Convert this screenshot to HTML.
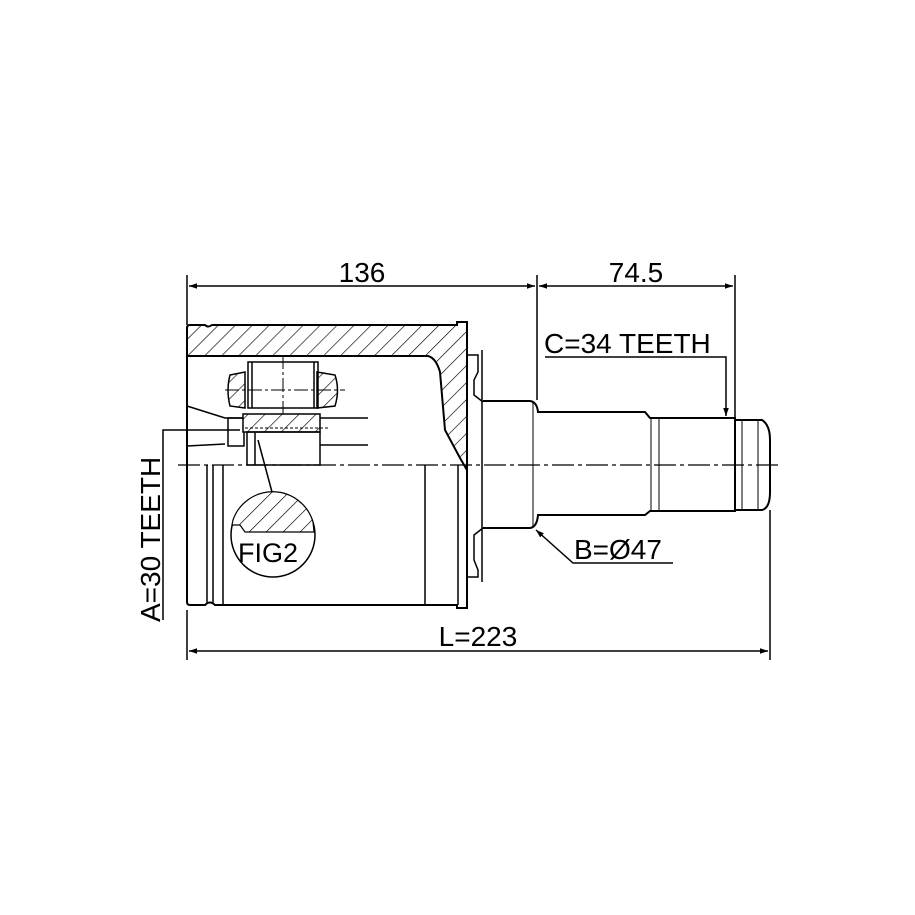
<!DOCTYPE html>
<html><head><style>html,body{margin:0;padding:0;background:#fff}svg{display:block}</style></head><body>
<svg width="915" height="915" viewBox="0 0 915 915" xmlns="http://www.w3.org/2000/svg" font-family="Liberation Sans, sans-serif">
<defs>
<pattern id="h" patternUnits="userSpaceOnUse" width="12" height="12" patternTransform="rotate(45)">
<rect width="12" height="12" fill="#fff"/><line x1="0" y1="0" x2="0" y2="12" stroke="#000" stroke-width="1.3"/>
</pattern>
<marker id="a" viewBox="0 0 10 10" refX="10" refY="5" markerWidth="14" markerHeight="8" orient="auto-start-reverse" markerUnits="userSpaceOnUse"><path d="M0,1.5 L10,5 L0,8.5z" fill="#000"/></marker>
</defs>
<g stroke="#000" fill="none" stroke-width="1.5">
<line x1="187" y1="275" x2="187" y2="325"/>
<line x1="537" y1="275" x2="537" y2="400"/>
<line x1="735" y1="275" x2="735" y2="418"/>
<line x1="189" y1="286" x2="535" y2="286" marker-start="url(#a)" marker-end="url(#a)"/>
<line x1="539" y1="286" x2="733" y2="286" marker-start="url(#a)" marker-end="url(#a)"/>
<line x1="187" y1="610" x2="187" y2="660"/>
<line x1="770" y1="510" x2="770" y2="660"/>
<line x1="189" y1="651" x2="768" y2="651" marker-start="url(#a)" marker-end="url(#a)"/>
<path d="M187,328 Q187,325 190,325 L205,325 Q208,328 212,325 L457,325 L457,322 L467,322 L467,470 L460,458 L445,430 L440,372 Q436,358 428,356 L187,356 Z" fill="url(#h)" stroke-width="2"/>
<path d="M187,356 L187,602 Q187,605 190,605 L205,605 Q210,600 215,605 L457,605 L457,608 L467,608 L467,470" stroke-width="2"/>
<line x1="207" y1="465" x2="207" y2="603"/>
<line x1="213" y1="465" x2="213" y2="603"/>
<line x1="223" y1="465" x2="223" y2="605"/>
<line x1="425" y1="465" x2="425" y2="605"/>
<line x1="458" y1="465" x2="458" y2="605"/>
<path d="M187,406 L225,418 L245,418"/>
<path d="M187,446 L225,444"/>
<rect x="228" y="418" width="16" height="28"/>
<path d="M230,375 L245,372 L245,408 L230,406 Q226,390 230,375Z" fill="url(#h)"/>
<path d="M317,372 L335,375 Q340,390 335,406 L317,408Z" fill="url(#h)"/>
<rect x="248" y="362" width="70" height="46"/>
<line x1="252" y1="362" x2="252" y2="408"/>
<line x1="314" y1="362" x2="314" y2="408"/>
<line x1="225" y1="390" x2="345" y2="390" stroke-dasharray="14 3 3 3" stroke-width="1"/>
<line x1="283" y1="355" x2="283" y2="420" stroke-dasharray="14 3 3 3" stroke-width="1"/>
<rect x="243" y="414" width="77" height="18" fill="url(#h)"/>
<rect x="247" y="432" width="73" height="33"/>
<line x1="320" y1="418" x2="368" y2="418"/>
<line x1="320" y1="445" x2="368" y2="445"/>
<line x1="255" y1="432" x2="255" y2="465"/>
<line x1="245" y1="428" x2="330" y2="428" stroke-dasharray="3 2" stroke-width="1"/>
<line x1="258" y1="440" x2="272" y2="492"/>
<circle cx="273" cy="535" r="42" fill="#fff"/>
<path d="M233,520 A42,42 0 0 1 313,522 L314,532 L245,532 L240,525 L232,525Z" fill="url(#h)" stroke-width="1.2"/>
<path d="M467,355 L478,355 L478,372 L474,380 L474,395 L483,402 M483,528 L474,535 L474,560 L478,570 L478,577 L467,577" stroke-width="1.5"/>
<line x1="482" y1="350" x2="482" y2="582"/>
<path d="M483,401 L530,401 Q537,402 538,412 L645,412 L650,418 L735,418 L735,511 L650,511 L645,515 L538,515 Q537,527 530,528 L483,528" stroke-width="2"/>
<line x1="533" y1="401" x2="533" y2="528" stroke-width="1"/>
<line x1="651" y1="418" x2="651" y2="511" stroke-width="1"/>
<line x1="659" y1="418" x2="659" y2="511" stroke-width="1"/>
<path d="M735,420 L762,420 Q770,425 770,440 L770,492 Q770,508 762,510 L735,510" stroke-width="2"/>
<line x1="742" y1="420" x2="742" y2="510" stroke-width="1"/>
<line x1="758" y1="420" x2="758" y2="510" stroke-width="1"/>
<line x1="178" y1="465" x2="780" y2="465" stroke-dasharray="22 4 4 4" stroke-width="1.2"/>
<polyline points="545,357 726,357 726,416" marker-end="url(#a)"/>
<polyline points="673,563 573,563 536,530" marker-end="url(#a)"/>
<polyline points="163,620 163,430 240,430"/>
</g>
<g font-size="28" fill="#000">
<text x="362" y="282" text-anchor="middle">136</text>
<text x="636" y="282" text-anchor="middle">74.5</text>
<text x="478" y="646" text-anchor="middle">L=223</text>
<text x="544" y="353">C=34 TEETH</text>
<text x="574" y="559">B=Ø47</text>
<text x="238" y="562" font-size="27">FIG2</text>
<text transform="translate(160,622) rotate(-90)">A=30 TEETH</text>
</g>
</svg>
</body></html>
